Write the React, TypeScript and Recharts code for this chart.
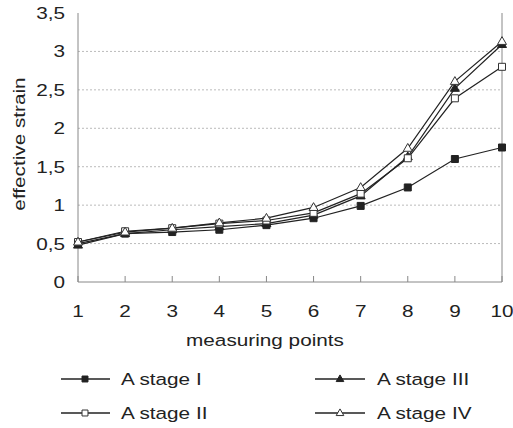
import { LineChart, Line, XAxis, YAxis, CartesianGrid, ReferenceLine } from 'recharts';

const points = [1, 2, 3, 4, 5, 6, 7, 8, 9, 10];
const stageI = [0.5, 0.63, 0.65, 0.68, 0.74, 0.83, 0.99, 1.23, 1.6, 1.75];
const stageII = [0.52, 0.66, 0.7, 0.76, 0.8, 0.9, 1.15, 1.61, 2.39, 2.8];
const stageIII = [0.48, 0.63, 0.68, 0.72, 0.76, 0.87, 1.12, 1.63, 2.52, 3.09];
const stageIV = [0.52, 0.65, 0.7, 0.77, 0.83, 0.97, 1.23, 1.74, 2.61, 3.13];
const yTicks = [0, 0.5, 1, 1.5, 2, 2.5, 3, 3.5];
const gridValues = [0.5, 1, 1.5, 2, 2.5, 3];

const series = [
  { key: 'I', name: 'A stage I', values: stageI, shape: 'square', filled: true },
  { key: 'III', name: 'A stage III', values: stageIII, shape: 'triangle', filled: true },
  { key: 'II', name: 'A stage II', values: stageII, shape: 'square', filled: false },
  { key: 'IV', name: 'A stage IV', values: stageIV, shape: 'triangle', filled: false },
];

const data = points.map((x, i) => {
  const row: any = { x };
  series.forEach((s) => (row[s.key] = s.values[i]));
  return row;
});

const FONT = '"Liberation Sans", Arial, sans-serif';
const SX = 1.22;
const INK = '#222';
const AXIS = '#888';

function markerPath(shape: string, cx: number, cy: number, k = 1) {
  if (shape === 'square') {
    const h = 3.5 * k;
    return `M${cx - h},${cy - h}h${2 * h}v${2 * h}h${-2 * h}Z`;
  }
  const w = 4.5 * k;
  return `M${cx},${cy - 4.8 * k}L${cx + w},${cy + 3 * k}L${cx - w},${cy + 3 * k}Z`;
}

function Marker({ shape, filled, cx, cy, k }: any) {
  return (
    <path
      d={markerPath(shape, cx, cy, k)}
      fill={filled ? INK : '#fff'}
      stroke={filled ? INK : '#333'}
      strokeWidth={1}
    />
  );
}

function XTick(props: any) {
  const { x, payload } = props;
  return (
    <text
      transform={`translate(${x},317) scale(${SX},1)`}
      textAnchor="middle"
      fontFamily={FONT}
      fontSize={17}
      fill={INK}
    >
      {payload.value}
    </text>
  );
}

function YTick(props: any) {
  const { x, y, payload } = props;
  return (
    <text
      transform={`translate(${x},${y + 6}) scale(${SX},1)`}
      textAnchor="end"
      fontFamily={FONT}
      fontSize={17}
      fill={INK}
    >
      {String(payload.value).replace('.', ',')}
    </text>
  );
}

const legendCols = [
  { line: [61, 110], mark: 85, text: 121 },
  { line: [315, 365], mark: 340, text: 377 },
];
const legendRows = [379, 413];

function LegendOverlay() {
  return (
    <svg
      width={513}
      height={428}
      style={{ position: 'absolute', left: 0, top: 0, pointerEvents: 'none' }}
    >
      {series.map((s, i) => {
        const col = legendCols[i % 2];
        const y = legendRows[Math.floor(i / 2)];
        return (
          <g key={s.key}>
            <line x1={col.line[0]} x2={col.line[1]} y1={y} y2={y} stroke={INK} strokeWidth={1.5} />
            <Marker shape={s.shape} filled={s.filled} cx={col.mark} cy={y} k={0.85} />
            <text
              transform={`translate(${col.text},${y + 6}) scale(${SX},1)`}
              fontFamily={FONT}
              fontSize={17}
              fill={INK}
            >
              {s.name}
            </text>
          </g>
        );
      })}
      <text
        transform={`translate(265,346) scale(${SX},1)`}
        textAnchor="middle"
        fontFamily={FONT}
        fontSize={17}
        fill={INK}
      >
        measuring points
      </text>
      <text
        transform={`translate(25,144) rotate(-90) scale(${SX},1)`}
        textAnchor="middle"
        fontFamily={FONT}
        fontSize={17}
        fill={INK}
      >
        effective strain
      </text>
    </svg>
  );
}

export default function App() {
  document.body.style.margin = '0';
  return (
    <div style={{ position: 'relative', width: 513, height: 428, background: '#fff' }}>
      <LineChart
        width={513}
        height={428}
        data={data}
        margin={{ top: 13, right: 11, bottom: 116, left: 0 }}
      >
        <CartesianGrid
          vertical={false}
          horizontalValues={gridValues}
          stroke="#bbb"
          strokeDasharray="2 2"
        />
        <XAxis
          type="number"
          dataKey="x"
          domain={[1, 10]}
          ticks={points}
          height={30}
          stroke={AXIS}
          tickSize={-6}
          tickMargin={0}
          tick={<XTick />}
          interval={0}
        />
        <YAxis
          domain={[0, 3.5]}
          ticks={yTicks}
          width={78}
          stroke={AXIS}
          tickLine={false}
          tickSize={0}
          tickMargin={13}
          tick={<YTick />}
          interval={0}
        />
        <ReferenceLine x={10} stroke={AXIS} />
        {series.map((s) => (
          <Line
            key={s.key}
            dataKey={s.key}
            stroke={INK}
            strokeWidth={1.2}
            isAnimationActive={false}
            dot={(p: any) => (
              <Marker key={`${s.key}-${p.index}`} shape={s.shape} filled={s.filled} cx={p.cx} cy={p.cy} />
            )}
            activeDot={false}
          />
        ))}
      </LineChart>
      <LegendOverlay />
    </div>
  );
}
